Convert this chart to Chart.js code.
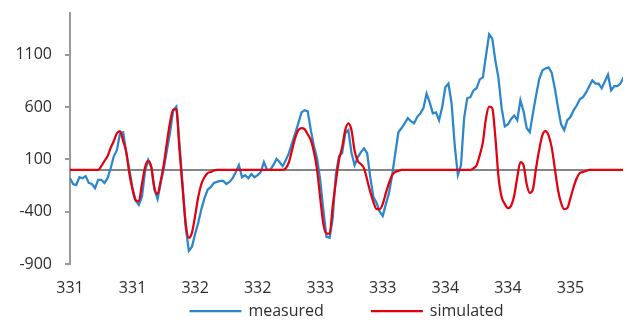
<!DOCTYPE html>
<html>
<head>
<meta charset="utf-8">
<script src="https://cdn.jsdelivr.net/npm/chart.js@4.4.1/dist/chart.umd.min.js"></script>
<style>
  html, body { margin: 0; padding: 0; background: #fff; }
</style>
</head>
<body>
<canvas id="mainChart" width="627" height="320"></canvas>
<script>
// field axis: spectra sampled on a regular grid
const fieldStart = 330.8
const fieldStep = 0.025

const measured = [
  -80, -135, -145, -70, -80, -60, -125, -135, -175, -95,
  -95, -125, -80, 15, 130, 190, 350, 360, 160, 0,
  -175, -295, -335, -260, -10, 95, 25, -190, -280, -125,
  15, 190, 360, 570, 605, 255, -145, -555, -775, -735,
  -610, -505, -375, -270, -190, -165, -125, -115, -105, -105,
  -135, -115, -80, -20, 45, -70, -50, -80, -40, -70,
  -50, -20, 75, 0, 0, 45, 105, 75, 35, 95,
  160, 255, 350, 445, 550, 570, 560, 380, 225, 110,
  -95, -385, -640, -650, -460, -40, 130, 160, 350, 380,
  160, 45, 120, 170, 205, 160, -70, -260, -315, -400,
  -440, -325, -220, -50, 160, 360, 400, 445, 495, 465,
  445, 505, 540, 590, 730, 645, 540, 550, 475, 600,
  790, 825, 635, 235, -50, 45, 495, 685, 695, 760,
  780, 865, 885, 1095, 1295, 1255, 1045, 875, 590, 415,
  435, 485, 520, 475, 665, 560, 400, 360, 540, 710,
  865, 950, 970, 980, 930, 780, 600, 435, 380, 475,
  505, 570, 615, 675, 695, 740, 800, 855, 825, 825,
  780, 845, 910, 760, 800, 800, 825, 885
]

const simulated = [
  0, 0, 0, 0, 0, 0, 0, 0, 0, 0,
  35, 85, 130, 210, 275, 350, 370, 275, 170, -40,
  -190, -290, -300, -135, 25, 85, 25, -175, -230, -105,
  55, 265, 455, 575, 580, 190, -175, -515, -650, -600,
  -440, -260, -135, -70, -30, -20, -5, 0, 0, 0,
  0, 0, 0, 0, 0, 0, 0, 0, 0, 0,
  0, 0, 0, 0, 0, 0, 0, 0, 0, 15,
  75, 190, 305, 380, 400, 390, 340, 285, 170, 0,
  -270, -515, -610, -610, -345, -115, 95, 215, 380, 445,
  380, 180, 85, 55, 15, -95, -210, -305, -375, -375,
  -325, -220, -125, -50, -20, -10, 0, 0, 0, 0,
  0, 0, 0, 0, 0, 0, 0, 0, 0, 0,
  0, 0, 0, 0, 0, 0, 0, 0, 0, 15,
  45, 140, 265, 495, 605, 590, 310, -70, -260, -325,
  -365, -345, -250, -70, 75, 45, -135, -220, -185, 15,
  190, 330, 370, 330, 215, 15, -190, -315, -375, -365,
  -270, -165, -80, -30, -20, -10, 0, 0, 0, 0,
  0, 0, 0, 0, 0, 0, 0, 0
]

const yTicks = [-900, -400, 100, 600, 1100]
const xTicks = [330.8, 331.3, 331.8, 332.3, 332.8, 333.3, 333.8, 334.3, 334.8]
const xTickLabels = ['331', '331', '332', '332', '333', '333', '334', '334', '335']

const fontFamily = '"Open Sans", sans-serif'
const textColor = '#2e2e2e'
const axisGrey = '#9a9a9a'

function toPoints(values) {
  return values.map((v, i) => ({ x: fieldStart + i * fieldStep, y: v }))
}

// grey baseline through zero
const zeroLine = {
  id: 'zeroLine',
  beforeDatasetsDraw(chart) {
    const ctx = chart.ctx
    const area = chart.chartArea
    const y = chart.scales.y.getPixelForValue(0)
    ctx.save()
    ctx.strokeStyle = '#858585'
    ctx.lineWidth = 2
    ctx.beginPath()
    ctx.moveTo(area.left, y)
    ctx.lineTo(area.right, y)
    ctx.stroke()
    ctx.restore()
  }
}

// legend with line samples, centred under the plot
const lineLegend = {
  id: 'lineLegend',
  afterDraw(chart) {
    const ctx = chart.ctx
    const area = chart.chartArea
    const lineLen = 52, textGap = 7, itemGap = 47
    ctx.save()
    ctx.font = '16px ' + fontFamily
    const items = chart.data.datasets.map(ds => ({
      ds: ds,
      w: lineLen + textGap + ctx.measureText(ds.label).width
    }))
    const total = items.reduce((s, it) => s + it.w, 0) + itemGap * (items.length - 1)
    let x = (area.left + area.right) / 2 - total / 2
    const y = chart.height - 9
    items.forEach(it => {
      ctx.strokeStyle = it.ds.borderColor
      ctx.lineWidth = it.ds.borderWidth
      ctx.beginPath()
      ctx.moveTo(x, y)
      ctx.lineTo(x + lineLen, y)
      ctx.stroke()
      ctx.fillStyle = textColor
      ctx.textBaseline = 'middle'
      ctx.textAlign = 'left'
      ctx.fillText(it.ds.label, x + lineLen + textGap, y)
      x += it.w + itemGap
    })
    ctx.restore()
  }
}

window.onload = function () {
  const ctx = document.getElementById('mainChart').getContext('2d')
  const mainChart = new Chart(ctx, {
    type: 'line',
    data: {
      datasets: [
        {
          label: 'measured',
          data: toPoints(measured),
          borderColor: '#2b86cc',
          borderWidth: 2.25,
          pointRadius: 0,
          tension: 0,
          order: 1
        },
        {
          label: 'simulated',
          data: toPoints(simulated),
          borderColor: '#e3000f',
          borderWidth: 2.25,
          pointRadius: 0,
          cubicInterpolationMode: 'monotone',
          order: 0
        }
      ]
    },
    options: {
      responsive: false,
      animation: false,
      events: [],
      layout: {
        padding: { left: 15, right: 4, top: 13, bottom: 22 }
      },
      plugins: {
        legend: { display: false },
        tooltip: { enabled: false }
      },
      scales: {
        x: {
          type: 'linear',
          min: 330.8,
          max: 335.22,
          afterBuildTicks: axis => { axis.ticks = xTicks.map(v => ({ value: v })) },
          afterFit: axis => { axis.height = 34 },
          grid: { display: false, drawTicks: false },
          border: { display: false },
          ticks: {
            padding: 15,
            maxRotation: 0,
            color: textColor,
            font: { family: fontFamily, size: 16 },
            callback: (v, i) => xTickLabels[i]
          }
        },
        y: {
          min: -900,
          max: 1500,
          afterBuildTicks: axis => { axis.ticks = yTicks.map(v => ({ value: v })) },
          afterFit: axis => {
            // fixed gutter; the top label sits well below the axis end
            axis.width = 55
            axis.paddingTop = 0
            axis.paddingBottom = 0
          },
          grid: {
            drawOnChartArea: false,
            drawTicks: true,
            tickLength: 5,
            color: axisGrey,
            lineWidth: 2
          },
          border: { display: true, color: axisGrey, width: 2 },
          ticks: {
            padding: 13,
            color: textColor,
            font: { family: fontFamily, size: 16 },
            callback: v => String(v)
          }
        }
      }
    },
    plugins: [zeroLine, lineLegend]
  })
}
</script>
</body>
</html>
